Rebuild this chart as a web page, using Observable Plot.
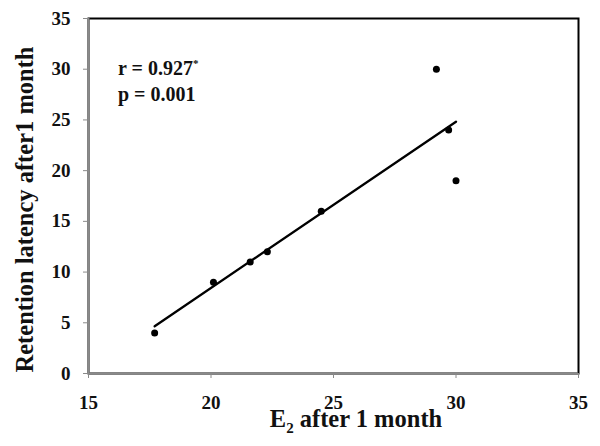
<!DOCTYPE html>
<html>
<head>
<meta charset="utf-8">
<script src="https://cdn.jsdelivr.net/npm/d3@7"></script>
<script src="https://cdn.jsdelivr.net/npm/@observablehq/plot@0.6"></script>
<style>
  html, body { margin: 0; padding: 0; background: #fff; }
  #chart svg { display: block; }
</style>
</head>
<body>
<div id="chart"></div>
<script>
// Data
const e2 = [17.7, 20.1, 21.6, 22.3, 24.5, 29.2, 29.7, 30.0];
const latency = [4, 9, 11, 12, 16, 30, 24, 19];
const xTicks = [15, 20, 25, 30, 35];
const yTicks = [0, 5, 10, 15, 20, 25, 30, 35];
const xLabel = ["E", "2", " after 1 month"];
const yLabel = "Retention latency after1 month";
const statLines = ["r = 0.927", "*", "p = 0.001"];

const data = e2.map((x, i) => ({x, y: latency[i]}));
const font = "'Liberation Serif', 'Times New Roman', serif";

const plot = Plot.plot({
  width: 600,
  height: 446,
  marginLeft: 88,
  marginRight: 22,
  marginTop: 18,
  marginBottom: 73,
  style: {fontFamily: font, background: "#fff"},
  x: {domain: [15, 35], ticks: xTicks},
  y: {domain: [0, 35], ticks: yTicks},
  marks: [
    Plot.frame({stroke: "#000", strokeWidth: 2}),
    Plot.ruleX([15], {stroke: "#8a8a8a", strokeWidth: 2}),
    Plot.ruleY([0], {stroke: "#8a8a8a", strokeWidth: 2}),
    Plot.axisX({ticks: xTicks, tickSize: 5, tickPadding: 17, stroke: "#8a8a8a",
      fontSize: 19, fontWeight: "bold", fill: "#111", label: null}),
    Plot.axisY({ticks: yTicks, tickSize: 5, tickPadding: 13, stroke: "#8a8a8a",
      fontSize: 19, fontWeight: "bold", fill: "#111", label: null}),
    Plot.linearRegressionY(data, {x: "x", y: "y", ci: 0, stroke: "#000", strokeWidth: 2.3}),
    Plot.dot(data, {x: "x", y: "y", r: 3.5, fill: "#000", stroke: "none"})
  ]
});

document.getElementById("chart").appendChild(plot);

const svg = d3.select(plot);
const xs = plot.scale("x");
const ys = plot.scale("y");
const [x0, x1] = xs.range;
const [y0, y1] = ys.range; // y0 bottom, y1 top

// X axis label with subscript
const xl = svg.append("text")
  .attr("x", (x0 + x1) / 2 + 23)
  .attr("y", y0 + 54)
  .attr("text-anchor", "middle")
  .attr("font-family", font)
  .attr("font-weight", "bold")
  .attr("font-size", 24.5)
  .attr("fill", "#111");
xl.append("tspan").text(xLabel[0]);
xl.append("tspan").attr("font-size", 15).attr("dy", 6).text(xLabel[1]);
xl.append("tspan").attr("dy", -6).text(xLabel[2]);

// Y axis label
svg.append("text")
  .attr("transform", `translate(33,${(y0 + y1) / 2 + 14}) rotate(-90)`)
  .attr("text-anchor", "middle")
  .attr("font-family", font)
  .attr("font-weight", "bold")
  .attr("font-size", 24.5)
  .attr("fill", "#111")
  .text(yLabel);

// Statistics annotation
const st = svg.append("text")
  .attr("text-anchor", "start")
  .attr("font-family", font)
  .attr("font-weight", "bold")
  .attr("font-size", 20)
  .attr("fill", "#111");
st.append("tspan").attr("x", x0 + 30).attr("y", y1 + 57).text(statLines[0]);
st.append("tspan").attr("font-size", 11).attr("dy", -8).text(statLines[1]);
st.append("tspan").attr("x", x0 + 30).attr("y", y1 + 83).text(statLines[2]);
</script>
</body>
</html>
